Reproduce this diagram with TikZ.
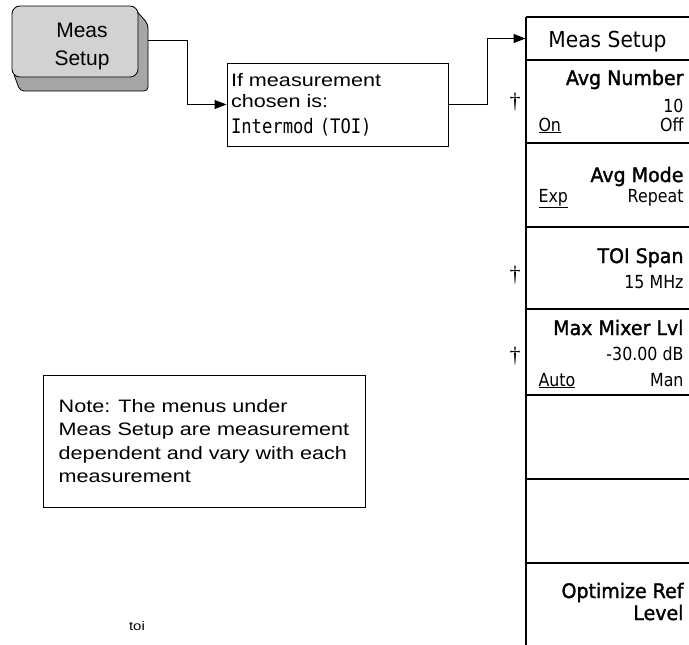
\documentclass[tikz,border=0pt]{standalone}
\usepackage{fontspec}
\usetikzlibrary{arrows.meta}
\setmainfont{Liberation Sans}
\newfontfamily\widefont[FakeStretch=1.2]{Liberation Sans}
\newfontfamily\keyfont{Liberation Sans}
\newfontfamily\lblfont[FakeStretch=0.95,FakeBold=1.5]{DejaVu Sans}
\newfontfamily\valfont[FakeStretch=0.88]{DejaVu Sans}
\newfontfamily\ttlfont[FakeStretch=0.92]{DejaVu Sans}
\newfontfamily\monofont[FakeStretch=0.86]{DejaVu Sans Mono}
\newfontfamily\dagfont{Liberation Serif}
\definecolor{keyface}{HTML}{D2D2D2}
\definecolor{keyside}{HTML}{A6A6A6}
\begin{document}
\begin{tikzpicture}[x=1pt,y=-1pt,line width=1pt,
  arr/.style={-{Triangle[length=12pt,width=9pt]}},
  lbl/.style={anchor=base east,inner sep=0,font=\lblfont\fontsize{20}{24}\selectfont},
  val/.style={anchor=base east,inner sep=0,font=\valfont\fontsize{18}{22}\selectfont},
  lval/.style={anchor=base west,inner sep=0,font=\valfont\fontsize{18}{22}\selectfont},
  dagg/.style={inner sep=0,font=\dagfont\fontsize{22}{24}\selectfont},
  sepline/.style={line width=1.2pt}]
\useasboundingbox (0,0) rectangle (689,645);
% hardkey
\filldraw[fill=keyside,line width=0.8pt,rounded corners=4pt]
  (134,8) -- (148,24) -- (148,91) -- (20,91) -- (13,72) -- cycle;
\filldraw[fill=keyface,line width=0.8pt,rounded corners=8pt] (12,6) rectangle (138,77);
\node[font=\keyfont\fontsize{21}{28}\selectfont,align=center,inner sep=0] (key) at (82,46) {Meas\\Setup};
\coordinate (keyout) at (148,40);
% condition box
\node[draw,minimum width=221pt,minimum height=83pt,inner sep=0,text width=213pt,align=left,
  font=\widefont\fontsize{18}{21}\selectfont] (ifbox) at (337.5,104.5)
  {If measurement\\chosen is:\\[5pt]{\monofont\fontsize{20}{21}\selectfont Intermod (TOI)}};
% menu title
\node[minimum width=163pt,minimum height=43pt,inner sep=0,text height=17pt,text depth=0pt,
  font=\ttlfont\fontsize{22}{26}\selectfont] (title) at (607.5,38.5) {Meas Setup};
% connectors
\draw[arr] (keyout) -- ++(39,0) |- (ifbox.west);
\draw[arr] (ifbox.east) -- ++(39,0) |- (title.west);
% menu panel
\draw[sepline] (526,17) -- (526,645);
\foreach \yy in {17,60,143,227,309,395,479,563} \draw[sepline] (526,\yy) -- (689,\yy);
% menu keys
\node[lbl] (avgnum) at (684,85) {Avg Number};
\node[val] (avgnumv) at (684,112) {10};
\node[lval] (avgon) at (538,131) {\underline{On}};
\node[val] (avgoff) at (684,131) {Off};
\node[dagg] (d1) at (515,102) {\dag};
\node[lbl] (avgmode) at (684,182) {Avg Mode};
\node[lval] (avgexp) at (538,202) {\underline{Exp}};
\node[val] (avgrep) at (684,202) {Repeat};
\node[lbl] (toispan) at (684,263) {TOI Span};
\node[val] (toispanv) at (684,288) {15 MHz};
\node[dagg] (d2) at (515,275) {\dag};
\node[lbl] (mixer) at (684,335) {Max Mixer Lvl};
\node[val] (mixerv) at (684,360) {-30.00 dB};
\node[lval] (mixauto) at (538,386) {\underline{Auto}};
\node[val] (mixman) at (684,386) {Man};
\node[dagg] (d3) at (515,356) {\dag};
\node[lbl] (optref) at (684,598) {Optimize Ref};
\node[lbl] (optlvl) at (684,620) {Level};
% note
\node[draw,minimum width=322pt,minimum height=132pt,inner sep=0,align=left,
  font=\widefont\fontsize{18}{23.5}\selectfont] (note) at (204,441)
  {Note: The menus under\\Meas Setup are measurement\\dependent and vary with each\\measurement};
\node[font=\widefont\fontsize{12.5}{14}\selectfont,inner sep=0] (toilbl) at (137,626) {toi};
\end{tikzpicture}
\end{document}
